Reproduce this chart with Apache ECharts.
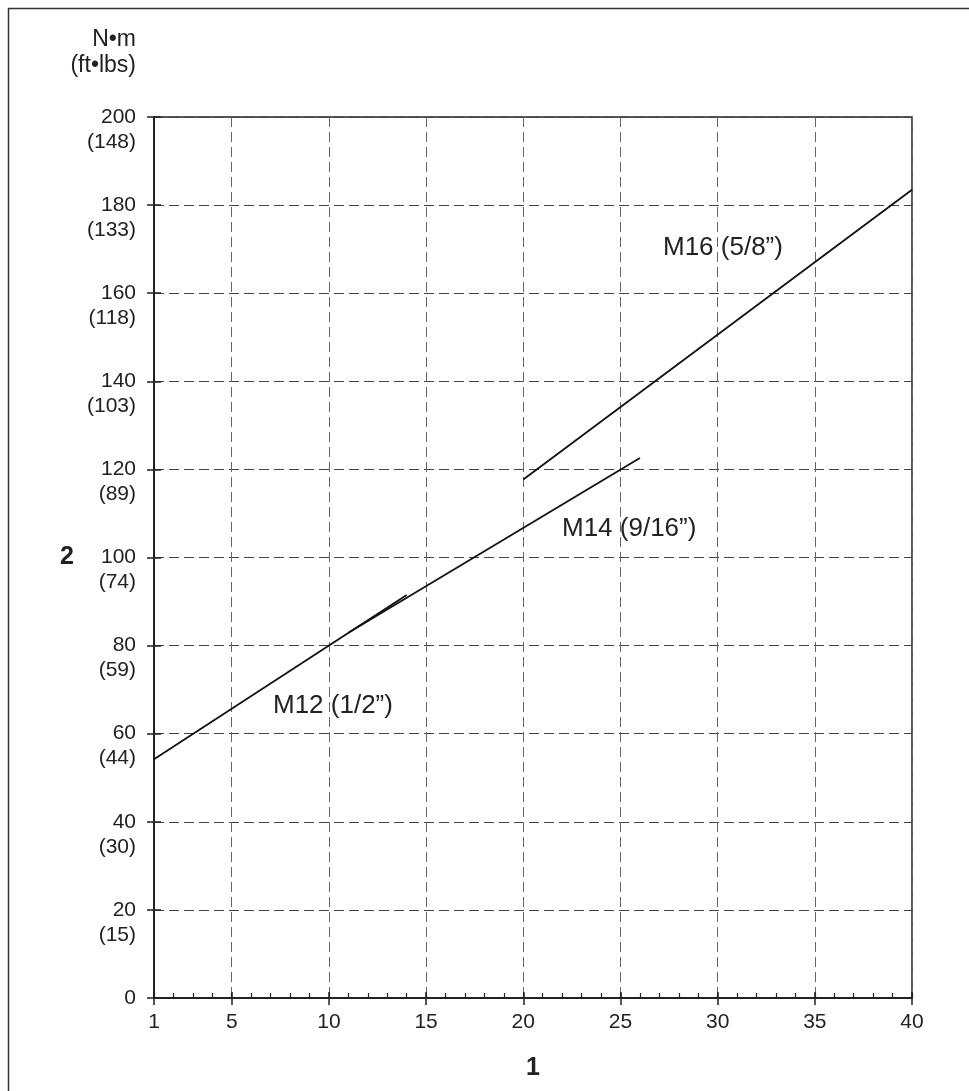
<!DOCTYPE html>
<html>
<head>
<meta charset="utf-8">
<script src="https://cdn.jsdelivr.net/npm/echarts@6/dist/echarts.min.js"></script>
<style>
html,body{margin:0;padding:0;background:#fff;}
#chart{width:969px;height:1091px;}
</style>
</head>
<body>
<div id="chart"></div>
<script>
// ---- data ----
const yTicksNm = [0, 20, 40, 60, 80, 100, 120, 140, 160, 180, 200];
const yTicksFt = ['', '(15)', '(30)', '(44)', '(59)', '(74)', '(89)', '(103)', '(118)', '(133)', '(148)'];
const xRange = [1, 40];
const m12 = [[1, 54.2], [14, 91.5]];
const m14 = [[11, 82.9], [26, 122.6]];
const m16 = [[20, 117.7], [40, 183.5]];
const seriesNames = ['M12 (1/2\u201D)', 'M14 (9/16\u201D)', 'M16 (5/8\u201D)'];
const unitTitle = 'N\u2022m\n(ft\u2022lbs)';
const xName = '1';
const yName = '2';

const FONT = '"Liberation Sans", Arial, Helvetica, sans-serif';
const TXT = '#222';

const chart = echarts.init(document.getElementById('chart'), null, {renderer: 'canvas'});

function yLabel(v) {
  const i = yTicksNm.indexOf(v);
  if (i < 0) return '';
  if (!yTicksFt[i]) return String(v);
  return '\n' + v + '\n' + yTicksFt[i];
}

const baseX = {
  type: 'value', min: xRange[0], max: xRange[1], position: 'bottom',
  gridIndex: 0
};

const option = {
  animation: false,
  backgroundColor: '#fff',
  grid: {
    left: 154, right: 57, top: 117, bottom: 93,
    show: true, borderColor: '#222', borderWidth: 1.5, backgroundColor: 'transparent'
  },
  xAxis: [
    Object.assign({}, baseX, {
      minInterval: 5, maxInterval: 5, splitNumber: 8,
      name: xName, nameLocation: 'middle', nameGap: 58,
      nameTextStyle: {fontFamily: FONT, fontSize: 25, fontWeight: 'bold', color: TXT},
      axisLine: {show: true, lineStyle: {color: '#222', width: 2}},
      axisTick: {show: true, inside: false, length: 7, lineStyle: {color: '#222', width: 1.5}},
      axisLabel: {show: true, margin: 14, fontFamily: FONT, fontSize: 21, color: TXT, showMinLabel: true, showMaxLabel: true},
      splitLine: {show: true, lineStyle: {color: '#666', width: 1, type: [10, 5]}}
    }),
    Object.assign({}, baseX, {
      minInterval: 5, maxInterval: 5, splitNumber: 8,
      axisLine: {show: false},
      axisTick: {show: true, inside: true, length: 6, lineStyle: {color: '#222', width: 1.5}},
      axisLabel: {show: false},
      splitLine: {show: false}
    }),
    Object.assign({}, baseX, {
      minInterval: 1, maxInterval: 1, splitNumber: 39,
      axisLine: {show: false},
      axisTick: {show: true, inside: true, length: 5, lineStyle: {color: '#222', width: 1.2}},
      axisLabel: {show: false},
      splitLine: {show: false}
    })
  ],
  yAxis: [
    {
      type: 'value', min: 0, max: 200, interval: 20, position: 'left',
      name: yName, nameLocation: 'middle', nameGap: 80, nameRotate: 0,
      nameTextStyle: {fontFamily: FONT, fontSize: 25, fontWeight: 'bold', color: TXT},
      axisLine: {show: true, lineStyle: {color: '#222', width: 2}},
      axisTick: {show: true, inside: false, length: 7, lineStyle: {color: '#222', width: 1.5}},
      axisLabel: {show: true, margin: 18, fontFamily: FONT, fontSize: 21, lineHeight: 25, color: TXT, align: 'right', formatter: yLabel},
      splitLine: {show: true, lineStyle: {color: '#444', width: 1, type: [10, 5]}}
    },
    {
      type: 'value', min: 0, max: 200, interval: 20, position: 'left',
      axisLine: {show: false},
      axisTick: {show: true, inside: true, length: 7, lineStyle: {color: '#222', width: 1.5}},
      axisLabel: {show: false},
      splitLine: {show: false}
    }
  ],
  graphic: [
    {
      type: 'rect', x: 8.5, y: 8.5, silent: true,
      shape: {x: 0, y: 0, width: 980, height: 1100},
      style: {fill: 'none', stroke: '#333', lineWidth: 1.5}
    },
    {
      type: 'text', x: 136, y: 27,
      style: {text: unitTitle, font: '23px ' + FONT, fill: TXT, align: 'right', verticalAlign: 'top', lineHeight: 26}
    },
    {
      type: 'text', x: 663, y: 235,
      style: {text: seriesNames[2], font: '26px ' + FONT, fill: TXT}
    },
    {
      type: 'text', x: 562, y: 516,
      style: {text: seriesNames[1], font: '26px ' + FONT, fill: TXT}
    },
    {
      type: 'text', x: 273, y: 693,
      style: {text: seriesNames[0], font: '26px ' + FONT, fill: TXT}
    }
  ],
  series: [
    {name: seriesNames[0], type: 'line', data: m12, xAxisIndex: 0, yAxisIndex: 0, symbol: 'none',
     lineStyle: {color: '#111', width: 1.8}},
    {name: seriesNames[1], type: 'line', data: m14, xAxisIndex: 0, yAxisIndex: 0, symbol: 'none',
     lineStyle: {color: '#111', width: 1.8}},
    {name: seriesNames[2], type: 'line', data: m16, xAxisIndex: 0, yAxisIndex: 0, symbol: 'none',
     lineStyle: {color: '#111', width: 1.8}}
  ]
};
chart.setOption(option);
</script>
</body>
</html>
